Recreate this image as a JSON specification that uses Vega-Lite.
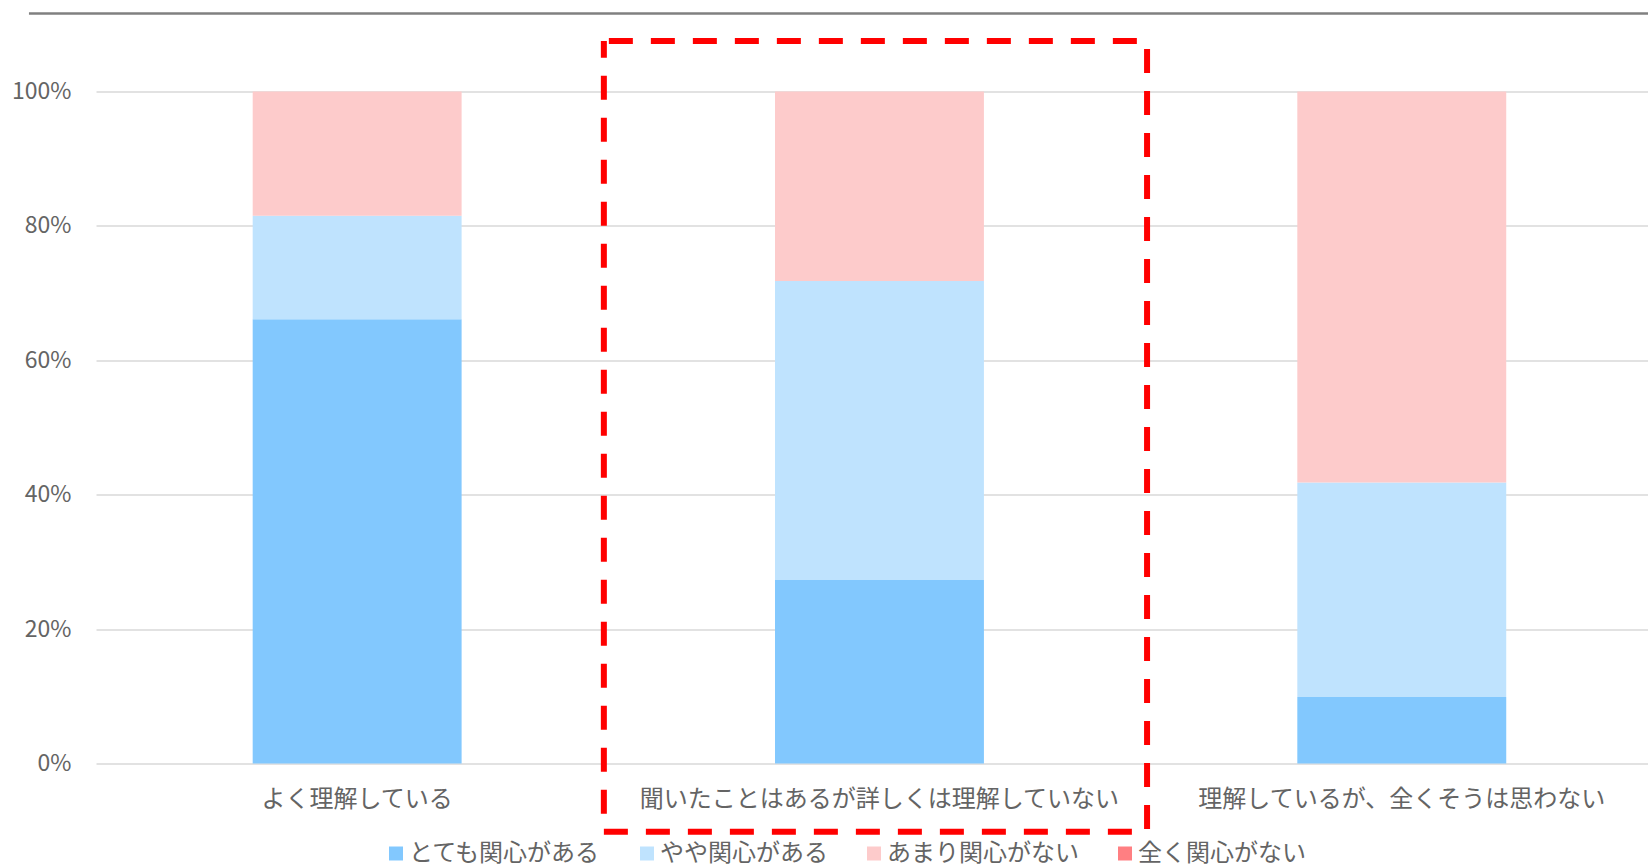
{
  "$schema": "https://vega.github.io/schema/vega-lite/v6.json",
  "width": 1552,
  "height": 672,
  "autosize": {"type": "none"},
  "padding": {"left": 96, "top": 91.5, "right": 0, "bottom": 104.5},
  "background": "white",
  "config": {
    "view": {"stroke": null},
    "font": "Noto Sans CJK JP",
    "axisY": {
      "title": null,
      "domain": false,
      "ticks": false,
      "tickSize": 0,
      "labelPadding": 25,
      "labelFontSize": 23,
      "labelColor": "#646464",
      "grid": true,
      "gridColor": "#d9d9d9",
      "gridWidth": 1.3
    }
  },
  "datasets": {
    "shares": [
      {"group": "よく理解している", "interest": "とても関心がある", "rank": 1, "share": 0.661},
      {"group": "よく理解している", "interest": "やや関心がある", "rank": 2, "share": 0.154},
      {"group": "よく理解している", "interest": "あまり関心がない", "rank": 3, "share": 0.185},
      {"group": "よく理解している", "interest": "全く関心がない", "rank": 4, "share": 0.0},
      {"group": "聞いたことはあるが詳しくは理解していない", "interest": "とても関心がある", "rank": 1, "share": 0.273},
      {"group": "聞いたことはあるが詳しくは理解していない", "interest": "やや関心がある", "rank": 2, "share": 0.445},
      {"group": "聞いたことはあるが詳しくは理解していない", "interest": "あまり関心がない", "rank": 3, "share": 0.282},
      {"group": "聞いたことはあるが詳しくは理解していない", "interest": "全く関心がない", "rank": 4, "share": 0.0},
      {"group": "理解しているが、全くそうは思わない", "interest": "とても関心がある", "rank": 1, "share": 0.099},
      {"group": "理解しているが、全くそうは思わない", "interest": "やや関心がある", "rank": 2, "share": 0.319},
      {"group": "理解しているが、全くそうは思わない", "interest": "あまり関心がない", "rank": 3, "share": 0.582},
      {"group": "理解しているが、全くそうは思わない", "interest": "全く関心がない", "rank": 4, "share": 0.0}
    ],
    "highlight": [
      {"group": "聞いたことはあるが詳しくは理解していない", "top": 1.075, "bottom": -0.1015}
    ],
    "frame": [
      {"x0": -0.0432, "x1": 1.0, "y": 1.116}
    ]
  },
  "layer": [
    {
      "layer": [
        {
          "data": {"name": "shares"},
          "mark": {"type": "bar"},
          "encoding": {
            "x": {
              "field": "group",
              "type": "nominal",
              "sort": null,
              "scale": {
                "domain": ["よく理解している", "聞いたことはあるが詳しくは理解していない", "理解しているが、全くそうは思わない"],
                "paddingInner": 0.6,
                "paddingOuter": 0.2857,
                "align": 0.525
              },
              "axis": {
                "title": null,
                "domain": false,
                "ticks": false,
                "tickSize": 0,
                "labelAngle": 0,
                "labelFontSize": 24,
                "labelColor": "#646464",
                "labelPadding": 24,
                "labelLimit": 0
              }
            },
            "y": {
              "field": "share",
              "type": "quantitative",
              "stack": "zero",
              "scale": {"domain": [0, 1], "nice": false},
              "axis": {
                "title": null,
                "format": "%",
                "values": [0, 0.2, 0.4, 0.6, 0.8, 1]
              }
            },
            "color": {
              "field": "interest",
              "type": "nominal",
              "scale": {
                "domain": ["とても関心がある", "やや関心がある", "あまり関心がない", "全く関心がない"],
                "range": ["#82C8FE", "#BFE3FE", "#FDCBCB", "#FF7F82"]
              },
              "legend": {
                "orient": "none",
                "legendX": 288,
                "legendY": 750,
                "direction": "horizontal",
                "columns": 4,
                "title": null,
                "padding": 0,
                "symbolType": "square",
                "symbolSize": 196,
                "symbolStrokeWidth": 0,
                "symbolOpacity": 1,
                "labelFontSize": 24,
                "labelColor": "#646464",
                "labelOffset": 1,
                "labelLimit": 0,
                "columnPadding": 34
              }
            },
            "order": {"field": "rank", "type": "quantitative"}
          }
        },
        {
          "data": {"name": "highlight"},
          "mark": {
            "type": "bar",
            "filled": false,
            "stroke": "#FF0000",
            "strokeWidth": 6,
            "strokeDash": [24, 18],
            "strokeDashOffset": -5,
            "width": {"band": 2.6},
            "xOffset": -4,
            "clip": false
          },
          "encoding": {
            "x": {
              "field": "group",
              "type": "nominal",
              "scale": {
                "domain": ["よく理解している", "聞いたことはあるが詳しくは理解していない", "理解しているが、全くそうは思わない"]
              }
            },
            "y": {
              "field": "top",
              "type": "quantitative",
              "scale": {"domain": [0, 1], "nice": false},
              "axis": {
                "title": null,
                "format": "%",
                "values": [0, 0.2, 0.4, 0.6, 0.8, 1]
              }
            },
            "y2": {"field": "bottom"}
          }
        }
      ]
    },
    {
      "data": {"name": "frame"},
      "mark": {"type": "rule", "color": "#808080", "strokeWidth": 2.5, "clip": false},
      "encoding": {
        "x": {
          "field": "x0",
          "type": "quantitative",
          "scale": {"domain": [0, 1], "nice": false, "zero": false},
          "axis": null
        },
        "x2": {"field": "x1"},
        "y": {
          "field": "y",
          "type": "quantitative",
          "scale": {"domain": [0, 1], "nice": false},
          "axis": {
            "title": null,
            "format": "%",
            "values": [0, 0.2, 0.4, 0.6, 0.8, 1]
          }
        }
      }
    }
  ],
  "resolve": {"scale": {"x": "independent"}, "axis": {"x": "independent"}}
}
